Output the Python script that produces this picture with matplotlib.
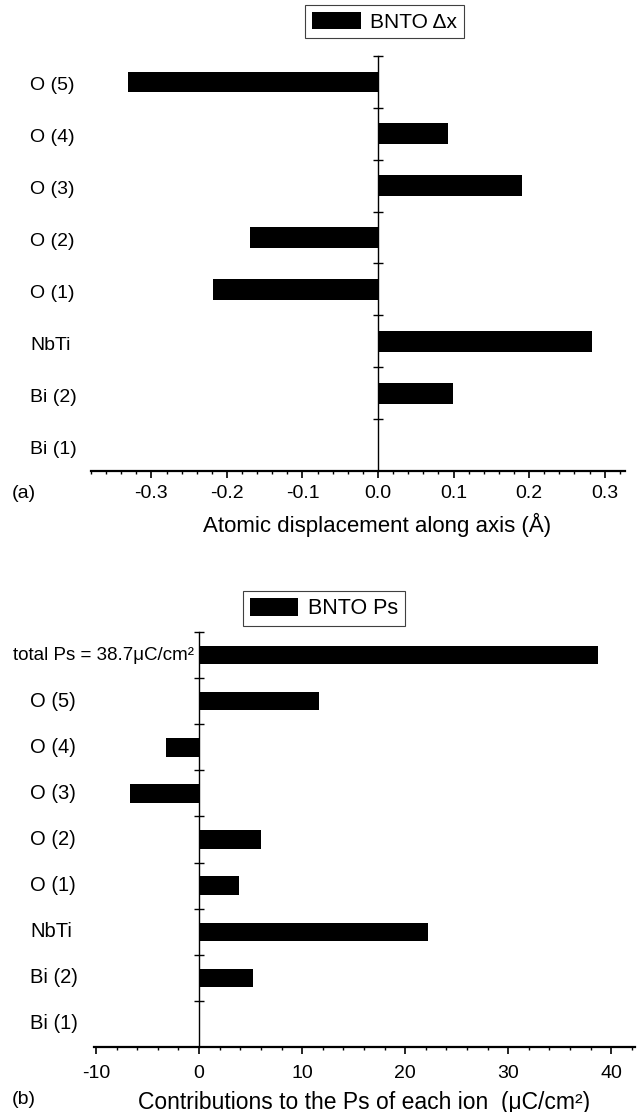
import matplotlib
matplotlib.use("Agg")
import matplotlib.pyplot as plt
from matplotlib import transforms
from matplotlib.ticker import MultipleLocator

plt.rcParams['font.family'] = ['Liberation Sans', 'DejaVu Sans']

W, H, DPI = 640, 1112, 100

# (a) atomic displacements along the polar axis (Å), listed top to bottom
disp_ions = ["O (5)", "O (4)", "O (3)", "O (2)", "O (1)", "NbTi", "Bi (2)", "Bi (1)"]
disp_values = [-0.331, 0.093, 0.190, -0.169, -0.218, 0.283, 0.099, 0.0]
disp_ticks = [-0.3, -0.2, -0.1, 0.0, 0.1, 0.2, 0.3]
disp_ticklabels = ["-0.3", "-0.2", "-0.1", "0.0", "0.1", "0.2", "0.3"]

# (b) contribution of each ion to the spontaneous polarisation (µC/cm²)
ps_ions = ["total Ps = 38.7\u03bcC/cm\u00b2", "O (5)", "O (4)", "O (3)", "O (2)",
           "O (1)", "NbTi", "Bi (2)", "Bi (1)"]
ps_values = [38.7, 11.6, -3.25, -6.7, 5.98, 3.88, 22.2, 5.23, 0.0]
ps_ticks = [-10, 0, 10, 20, 30, 40]
ps_ticklabels = ["-10", "0", "10", "20", "30", "40"]

fig = plt.figure(figsize=(W / DPI, H / DPI), dpi=DPI)
fig.patch.set_facecolor("white")


def px_rect(left, top, right, bottom):
    return [left / W, 1 - bottom / H, (right - left) / W, (bottom - top) / H]


def panel(rect, ions, values, xlim, ticks, ticklabels, minor, xlabel,
          legend_label, legend_xy, legend_size, handle_len, handle_h,
          label_size, label_dy, xlabel_size, xlabel_xy, tick_pad,
          first_right=False):
    ax = fig.add_axes(rect)
    n = len(ions)
    ypos = list(range(n - 1, -1, -1))
    ax.barh(ypos, values, height=0.4, color="black", linewidth=0,
            label=legend_label)
    ax.set_ylim(-0.5, n - 0.5)
    ax.set_xlim(*xlim)

    for side in ("top", "right"):
        ax.spines[side].set_visible(False)
    ax.spines["left"].set_position(("data", 0))
    ax.spines["left"].set_linewidth(1.0)
    ax.spines["bottom"].set_linewidth(1.6)

    ax.set_yticks([i + 0.5 for i in range(n)])
    ax.set_yticklabels([])
    ax.tick_params(axis="y", direction="inout", length=6.5, width=1.0)

    ax.set_xticks(ticks)
    ax.set_xticklabels(ticklabels)
    ax.xaxis.set_minor_locator(MultipleLocator(minor))
    ax.tick_params(axis="x", which="major", direction="out", length=5,
                   width=1.2, labelsize=14, pad=tick_pad)
    ax.tick_params(axis="x", which="minor", direction="out", length=2.5,
                   width=1.0)

    ax.set_xlabel(xlabel, fontsize=xlabel_size)
    ax.xaxis.label.set_verticalalignment("center")
    ax.xaxis.set_label_coords(*xlabel_xy)

    # ion names sit in a column at the left edge of the figure
    tr = transforms.blended_transform_factory(fig.transFigure, ax.transData)
    tr = transforms.offset_copy(tr, fig=fig, y=label_dy, units="dots")
    for k, (name, y) in enumerate(zip(ions, ypos)):
        if first_right and k == 0:
            ax.text(194 / W, y, name, transform=tr, ha="right", va="center",
                    fontsize=13.5)
        else:
            ax.text(30 / W, y, name, transform=tr, ha="left", va="center",
                    fontsize=label_size)

    leg = ax.legend(loc="upper left", bbox_to_anchor=legend_xy,
                    bbox_transform=fig.transFigure, borderaxespad=0,
                    fontsize=legend_size, handlelength=handle_len,
                    handleheight=handle_h, handletextpad=0.45,
                    borderpad=0.32, fancybox=False, framealpha=1)
    leg.get_frame().set_edgecolor("0.25")
    leg.get_frame().set_linewidth(0.8)
    return ax


panel(px_rect(91, 56, 625, 471), disp_ions, disp_values, (-0.38, 0.327),
      disp_ticks, disp_ticklabels, 0.02,
      "Atomic displacement along axis (\u00c5)", "BNTO \u0394x",
      (305 / W, 1 - 5 / H), 15, 2.35, 0.9,
      14, -4, 16, ((377 - 91) / 534, -54 / 415), 5)

panel(px_rect(94, 632, 635, 1047), ps_ions, ps_values, (-10.2, 42.3),
      ps_ticks, ps_ticklabels, 2,
      "Contributions to the Ps of each ion  (\u03bcC/cm\u00b2)", "BNTO Ps",
      (243 / W, 1 - 591 / H), 15.5, 2.25, 0.93,
      14.5, 0, 16.5, (0.5, -55 / 415), 8, first_right=True)

fig.text(12 / W, 1 - 493 / H, "(a)", fontsize=14, ha="left", va="center")
fig.text(12 / W, 1 - 1100 / H, "(b)", fontsize=14, ha="left", va="center")

fig.savefig("out.png", dpi=DPI)
